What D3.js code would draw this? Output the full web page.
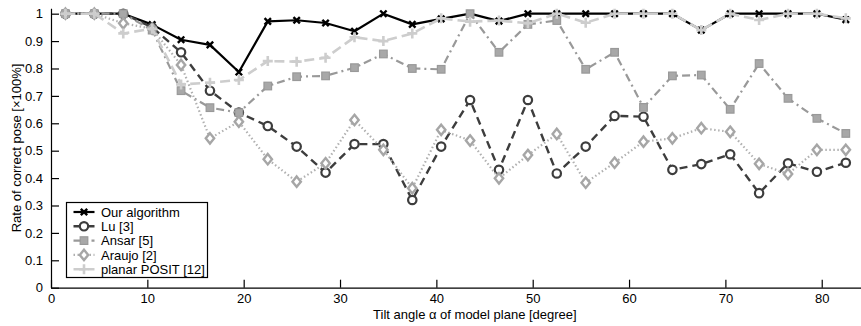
<!DOCTYPE html>
<html>
<head>
<meta charset="utf-8">
<script src="https://cdn.jsdelivr.net/npm/d3@7"></script>
<style>
  body { margin: 0; background: #fff; }
  svg { display: block; font-family: "Liberation Sans", Arial, Helvetica, sans-serif; }
</style>
</head>
<body>
<svg id="chart" width="861" height="326"></svg>
<script>
// tilt angles (degree)
var angles = [1.5, 4.5, 7.5, 10.5, 13.5, 16.5, 19.5, 22.5, 25.5, 28.5, 31.5, 34.5, 37.5, 40.5,
              43.5, 46.5, 49.5, 52.5, 55.5, 58.5, 61.5, 64.5, 67.5, 70.5, 73.5, 76.5, 79.5, 82.5];

var ourAlgorithm = [1, 1, 1, 0.96, 0.905, 0.886, 0.787, 0.972, 0.976, 0.966, 0.936, 1, 0.961, 0.981,
                    1, 0.973, 1, 1, 1, 1, 1, 1, 0.94, 1, 1, 1, 1, 0.978];
var lu = [1, 1, 1, 0.95, 0.859, 0.719, 0.639, 0.59, 0.515, 0.42, 0.524, 0.524, 0.32, 0.515,
          0.685, 0.43, 0.685, 0.417, 0.515, 0.627, 0.624, 0.43, 0.451, 0.487, 0.345, 0.454, 0.423, 0.456];
var ansar = [1, 1, 1, 0.94, 0.719, 0.657, 0.639, 0.736, 0.77, 0.773, 0.803, 0.853, 0.8, 0.797,
             1, 0.859, 0.961, 0.975, 0.797, 0.859, 0.658, 0.773, 0.776, 0.651, 0.818, 0.691, 0.618, 0.563];
var araujo = [1, 1, 0.965, 0.945, 0.813, 0.545, 0.606, 0.469, 0.387, 0.454, 0.612, 0.503, 0.363, 0.576,
              0.537, 0.399, 0.484, 0.561, 0.383, 0.456, 0.533, 0.545, 0.582, 0.569, 0.452, 0.415, 0.503, 0.503];
var planarPosit = [1, 1, 0.928, 0.945, 0.742, 0.748, 0.758, 0.827, 0.825, 0.839, 0.914, 0.9, 0.928, 0.983,
                   0.971, 0.975, 0.965, 1, 0.967, 1, 1, 1, 0.94, 1, 0.977, 1, 1, 0.983];

var seriesNames = ['Our algorithm', 'Lu [3]', 'Ansar [5]', 'Araujo [2]', 'planar POSIT [12]'];
var xTicks = [0, 10, 20, 30, 40, 50, 60, 70, 80];
var yTicks = [0, 0.1, 0.2, 0.3, 0.4, 0.5, 0.6, 0.7, 0.8, 0.9, 1];

var svg = d3.select('#chart');

var x = d3.scaleLinear().domain([0, 88]).range([51, 898.8]);
var y = d3.scaleLinear().domain([0, 1.02]).range([287.7, 8.2]);

// marker shapes
function markX(g, s) {
   g.append('path').attr('d', 'M' + (-s) + ',' + (-s) + 'L' + s + ',' + s + 'M' + (-s) + ',' + s + 'L' + s + ',' + (-s))
     .attr('stroke', '#000').attr('stroke-width', 2.4).attr('fill', 'none');
}
function markCircle(g) {
   g.append('circle').attr('r', 4.2).attr('fill', '#fff')
     .attr('stroke', '#3d3d3d').attr('stroke-width', 2.2);
}
function markSquare(g) {
   g.append('rect').attr('x', -3.8).attr('y', -3.8).attr('width', 7.6).attr('height', 7.6)
     .attr('fill', '#a8a8a8').attr('stroke', '#999').attr('stroke-width', 1.2);
}
function markDiamond(g) {
   g.append('path').attr('d', 'M0,-5.2L4.2,0L0,5.2L-4.2,0Z').attr('fill', '#fff')
     .attr('stroke', '#a6a6a6').attr('stroke-width', 2.4);
}
function markPlus(g) {
   g.append('path').attr('d', 'M-5,0L5,0M0,-5L0,5')
     .attr('stroke', '#cdcdcd').attr('stroke-width', 2.6).attr('fill', 'none');
}

var series = [
   { name: seriesNames[0], values: ourAlgorithm, color: '#000', width: 2.2, dash: null, mark: function(g) { markX(g, 3.2); } },
   { name: seriesNames[1], values: lu, color: '#3d3d3d', width: 2.4, dash: '8,5', mark: markCircle },
   { name: seriesNames[2], values: ansar, color: '#999', width: 2.2, dash: '8,4,2,4', mark: markSquare },
   { name: seriesNames[3], values: araujo, color: '#b0b0b0', width: 2.2, dash: '1.5,2.5', mark: markDiamond },
   { name: seriesNames[4], values: planarPosit, color: '#cdcdcd', width: 2.6, dash: '10,5', mark: markPlus }
];

// axes
var xAxis = d3.axisBottom(x).tickValues(xTicks).tickSizeInner(-8).tickSizeOuter(0).tickPadding(6);
var yAxis = d3.axisLeft(y).tickValues(yTicks).tickSizeInner(-8).tickSizeOuter(0).tickPadding(8)
   .tickFormat(function(d) { return (d === 0 || d === 1) ? d : d.toFixed(1); });

var gx = svg.append('g').attr('transform', 'translate(0,' + y(0) + ')').call(xAxis);
var gy = svg.append('g').attr('transform', 'translate(' + x(0) + ',0)').call(yAxis);
[gx, gy].forEach(function(g) {
   g.selectAll('text').attr('font-size', 13).attr('fill', '#000')
     .attr('font-family', '"Liberation Sans", Arial, Helvetica, sans-serif');
   g.selectAll('line, path').attr('stroke', '#000').attr('stroke-width', 1.2);
});

svg.append('text')
   .attr('x', (x.range()[0] + x.range()[1]) / 2)
   .attr('y', 319)
   .attr('text-anchor', 'middle')
   .attr('font-size', 13)
   .text('Tilt angle \u03b1 of model plane [degree]');

svg.append('text')
   .attr('transform', 'translate(21,' + (y(0) + y(1.02)) / 2 + ') rotate(-90)')
   .attr('text-anchor', 'middle')
   .attr('font-size', 13)
   .text('Rate of correct pose [\u00d7100%]');

// lines and markers
var line = d3.line()
   .x(function(d, i) { return x(angles[i]); })
   .y(function(d) { return y(d); });

series.forEach(function(s) {
   var g = svg.append('g');
   g.append('path')
      .attr('d', line(s.values))
      .attr('fill', 'none')
      .attr('stroke', s.color)
      .attr('stroke-width', s.width)
      .attr('stroke-dasharray', s.dash)
      .attr('stroke-linejoin', 'round');
   s.values.forEach(function(v, i) {
      var m = g.append('g').attr('transform', 'translate(' + x(angles[i]) + ',' + y(v) + ')');
      s.mark(m);
   });
});

// legend
var legend = svg.append('g').attr('transform', 'translate(66.5,202.5)');
legend.append('rect')
   .attr('width', 141).attr('height', 75)
   .attr('fill', '#fff').attr('stroke', '#000').attr('stroke-width', 1.2);

series.forEach(function(s, i) {
   var row = legend.append('g').attr('transform', 'translate(0,' + (9.5 + i * 14.3) + ')');
   row.append('line')
      .attr('x1', 7).attr('x2', 28).attr('y1', 0).attr('y2', 0)
      .attr('stroke', s.color).attr('stroke-width', s.width)
      .attr('stroke-dasharray', s.dash);
   s.mark(row.append('g').attr('transform', 'translate(17.5,0)'));
   row.append('text')
      .attr('x', 34.5).attr('y', 4.6)
      .attr('font-size', 13)
      .text(s.name);
});
</script>
</body>
</html>
